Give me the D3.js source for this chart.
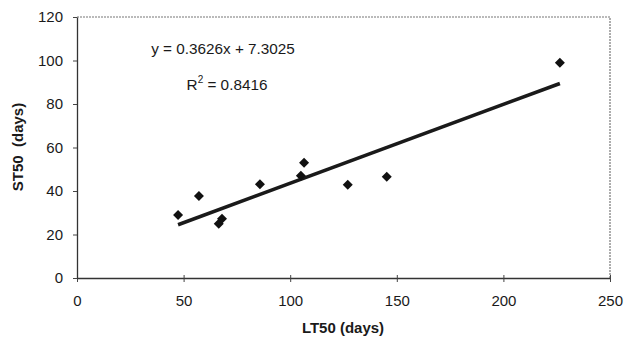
<!DOCTYPE html>
<html><head><meta charset="utf-8">
<script src="https://cdn.jsdelivr.net/npm/d3@7"></script>
<style>body{margin:0;background:#fff}svg{display:block}</style>
</head><body>
<svg id="c" width="625" height="338"></svg>
<script>
const lt50 = [47.4, 57.2, 66.5, 68.0, 85.8, 105.0, 106.5, 127.0, 145.3, 226.5];
const st50 = [29.0, 37.7, 25.0, 27.2, 43.1, 47.0, 53.0, 42.9, 46.6, 99.0];
const slope = 0.3626, intercept = 7.3025;
const xTicks = [0, 50, 100, 150, 200, 250];
const yTicks = [0, 20, 40, 60, 80, 100, 120];
const eqText = "y = 0.3626x + 7.3025";
const r2Value = "0.8416";

const svg = d3.select("#c");
const m = {l:77, r:15, t:17, b:60};
const W = 625, H = 338;
const x = d3.scaleLinear().domain([0,250]).range([m.l, W-m.r]);
const y = d3.scaleLinear().domain([0,120]).range([H-m.b, m.t]);
const font = "Arial, 'Liberation Sans', sans-serif";

// plot area border (top/right)
svg.append("path")
  .attr("d", `M${x(0)},${y(120)}H${x(250)}V${y(0)}`)
  .attr("fill","none").attr("stroke","#777").attr("stroke-width",1.2).attr("stroke-dasharray","2,1");

// axes
const xa = svg.append("g").attr("transform",`translate(0,${y(0)})`)
  .call(d3.axisBottom(x).tickValues(xTicks).tickSize(4).tickPadding(13).tickSizeOuter(0));
const ya = svg.append("g").attr("transform",`translate(${x(0)},0)`)
  .call(d3.axisLeft(y).tickValues(yTicks).tickSize(4).tickPadding(10).tickSizeOuter(0));
xa.selectAll(".tick line").attr("y1",-3);
[xa, ya].forEach(a=>{
  a.select(".domain").attr("stroke","#333").attr("stroke-width",1.3);
  a.selectAll(".tick line").attr("stroke","#444");
  a.selectAll("text").attr("font-family",font).attr("font-size",15).attr("fill","#1a1a1a");
});

// trend line
const xs = d3.extent(lt50);
svg.append("line")
  .attr("x1", x(xs[0])).attr("y1", y(slope*xs[0]+intercept))
  .attr("x2", x(xs[1])).attr("y2", y(slope*xs[1]+intercept))
  .attr("stroke","#1a1a1a").attr("stroke-width",3.6);

// markers
const d = 5;
svg.append("g").selectAll("path").data(lt50).join("path")
  .attr("d",(v,i)=>{const cx=x(v), cy=y(st50[i]); return `M${cx},${cy-d}L${cx+d},${cy}L${cx},${cy+d}L${cx-d},${cy}Z`;})
  .attr("fill","#111");

// equation text
svg.append("text").attr("x",223).attr("y",54).attr("text-anchor","middle")
  .attr("font-family",font).attr("font-size",15.3).attr("fill","#1a1a1a").text(eqText);
const r2 = svg.append("text").attr("x",227).attr("y",90).attr("text-anchor","middle")
  .attr("font-family",font).attr("font-size",15.3).attr("fill","#1a1a1a");
r2.append("tspan").text("R");
r2.append("tspan").attr("dy",-7).attr("font-size",10).text("2");
r2.append("tspan").attr("dy",7).text(" = " + r2Value);

// axis titles
svg.append("text").attr("x",343).attr("y",333).attr("text-anchor","middle")
  .attr("font-family",font).attr("font-weight","bold").attr("font-size",15).attr("fill","#1a1a1a")
  .text("LT50 (days)");
svg.append("text").attr("transform","translate(23,147) rotate(-90)").attr("text-anchor","middle")
  .attr("font-family",font).attr("font-weight","bold").attr("font-size",15).attr("fill","#1a1a1a")
  .attr("xml:space","preserve").style("white-space","pre")
  .text("ST50  (days)");
</script>
</body></html>
